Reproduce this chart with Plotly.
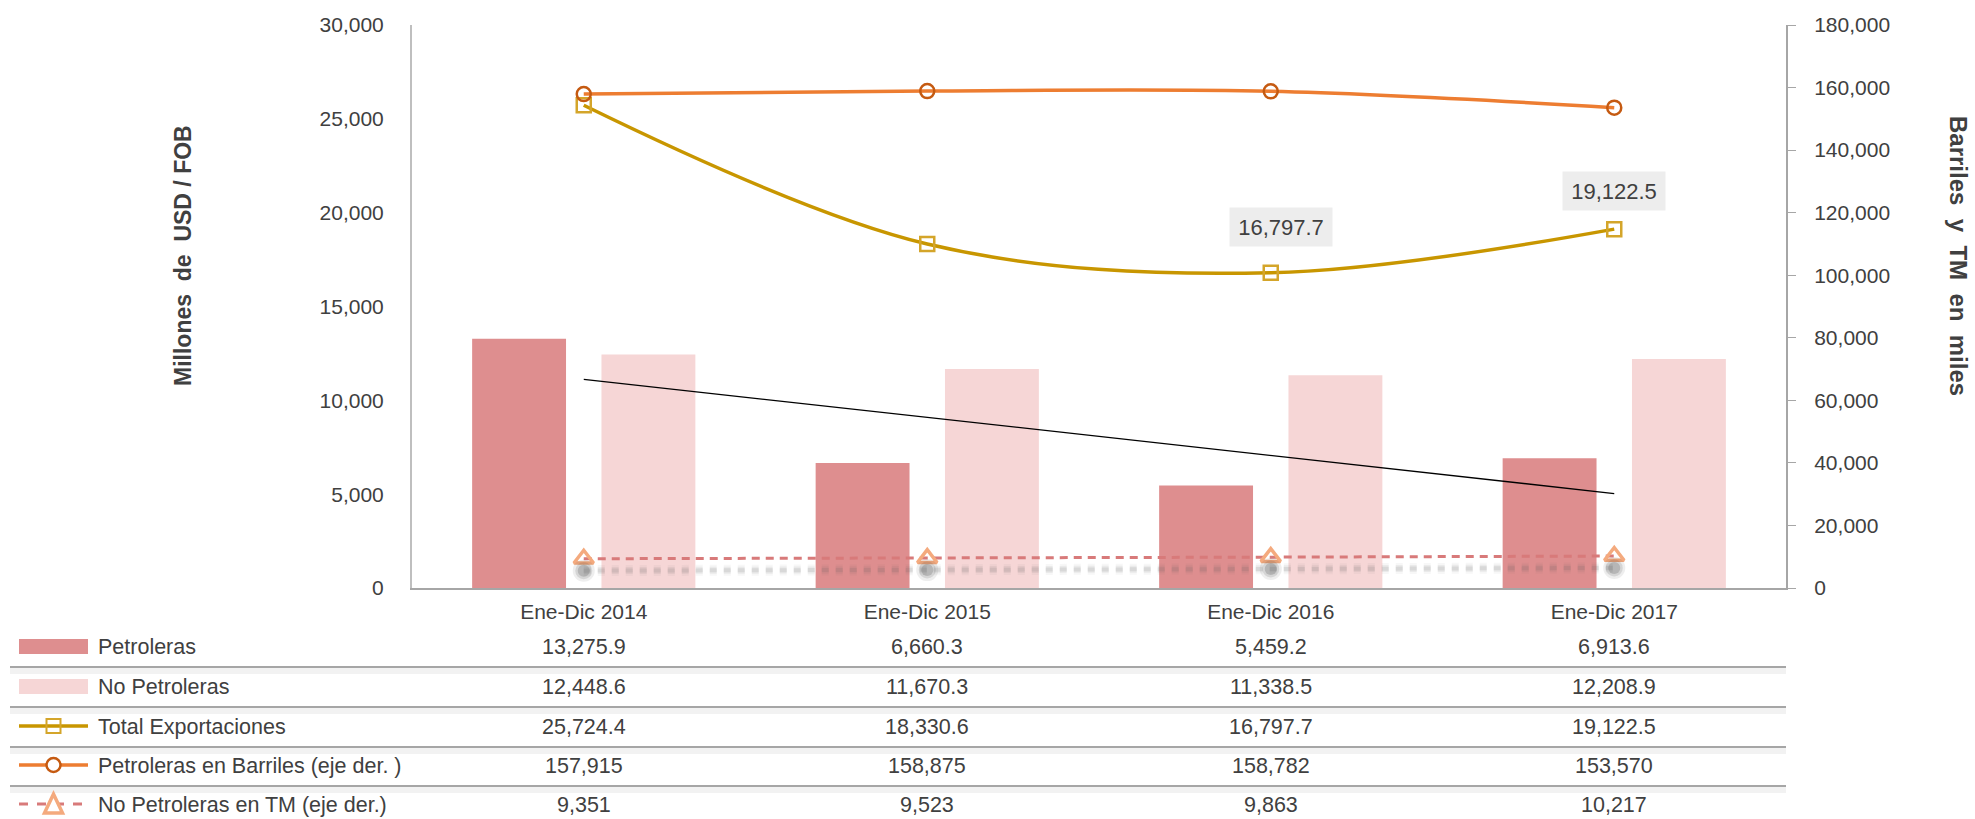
import numpy as np
import plotly.graph_objects as go

# ---- data ----
categories = ["Ene-Dic 2014", "Ene-Dic 2015", "Ene-Dic 2016", "Ene-Dic 2017"]
petroleras = [13275.9, 6660.3, 5459.2, 6913.6]
no_petroleras = [12448.6, 11670.3, 11338.5, 12208.9]
total_exportaciones = [25724.4, 18330.6, 16797.7, 19122.5]
petroleras_barriles = [157915, 158875, 158782, 153570]
no_petroleras_tm = [9351, 9523, 9863, 10217]
left_ticks = [0, 5000, 10000, 15000, 20000, 25000, 30000]
right_ticks = [0, 20000, 40000, 60000, 80000, 100000, 120000, 140000, 160000, 180000]

# ---- canvas / plot-area geometry (pixels) ----
W, H = 1975, 819
L, R, T, B = 412, 1786, 25, 588
PW, PH = R - L, B - T

FONT = "Liberation Sans, Arial, sans-serif"
FS = 21
TXT = "#404040"

C_PET = "#DE8E8F"
C_NOPET = "#F6D6D6"
C_TOTAL = "#C89600"
C_TOTAL_MK = "#D4A52A"
C_BARR = "#ED7D31"
C_BARR_MK = "#C55A11"
C_TM = "#D87A7A"
C_TM_MK = "#F4AA7E"


def px_x(x):
    return (x - L) / PW


def px_y(y):
    return (B - y) / PH


# linear trend of the oil exports
xi = np.arange(1, len(petroleras) + 1)
slope, intercept = np.polyfit(xi, petroleras, 1)
trend = slope * xi + intercept

fig = go.Figure()

fig.add_trace(go.Bar(x=categories, y=petroleras, name="Petroleras",
                     marker=dict(color=C_PET, line=dict(width=0)), yaxis="y"))
fig.add_trace(go.Bar(x=categories, y=no_petroleras, name="No Petroleras",
                     marker=dict(color=C_NOPET, line=dict(width=0)), yaxis="y"))

# soft shadow beneath the TM series (same values on a slightly shifted hidden axis)
for w, a, ms in [(11, 0.05, 22), (7, 0.08, 17), (4, 0.12, 12)]:
    fig.add_trace(go.Scatter(
        x=categories, y=no_petroleras_tm, mode="lines+markers", yaxis="y3",
        line=dict(color=f"rgba(90,90,90,{a})", width=w, dash="7px,7px"),
        marker=dict(symbol="circle", size=ms, color=f"rgba(70,70,70,{a*1.8})",
                    line=dict(width=0)),
        showlegend=False, hoverinfo="skip"))

fig.add_trace(go.Scatter(
    x=categories, y=no_petroleras_tm, name="No Petroleras en TM (eje der.)",
    mode="lines+markers", yaxis="y2",
    line=dict(color=C_TM, width=3, dash="8px,6px"),
    marker=dict(symbol="triangle-up-open", size=17,
                line=dict(color=C_TM_MK, width=3.5), color=C_TM_MK)))

fig.add_trace(go.Scatter(
    x=categories, y=trend, mode="lines", yaxis="y",
    line=dict(color="black", width=1.3), showlegend=False, hoverinfo="skip"))

fig.add_trace(go.Scatter(
    x=categories, y=petroleras_barriles, name="Petroleras en Barriles (eje der. )",
    mode="lines+markers", yaxis="y2",
    line=dict(color=C_BARR, width=3.5, shape="spline"),
    marker=dict(symbol="circle-open", size=14,
                line=dict(color=C_BARR_MK, width=2.5), color=C_BARR_MK)))

fig.add_trace(go.Scatter(
    x=categories, y=total_exportaciones, name="Total Exportaciones",
    mode="lines+markers", yaxis="y",
    line=dict(color=C_TOTAL, width=3.5, shape="spline"),
    marker=dict(symbol="square-open", size=14,
                line=dict(color=C_TOTAL_MK, width=2.5), color=C_TOTAL_MK)))

annotations = []
shapes = []

# value labels on the last two totals
for idx, (ax, ay) in [(2, (10, -46)), (3, (0, -38))]:
    annotations.append(dict(
        x=categories[idx], y=total_exportaciones[idx], xref="x", yref="y",
        text=f"{total_exportaciones[idx]:,.1f}", showarrow=True, arrowcolor="rgba(0,0,0,0)",
        ax=ax, ay=ay, font=dict(family=FONT, size=FS + 1, color=TXT),
        bgcolor="#EDEDED", borderpad=6, width=90, height=26))

# axis titles
annotations.append(dict(x=px_x(183), y=px_y(256), xref="paper", yref="paper",
                        xanchor="center", yanchor="middle",
                        text="<b>Millones  de  USD / FOB</b>", textangle=-90,
                        showarrow=False, font=dict(family=FONT, size=23, color=TXT)))
annotations.append(dict(x=px_x(1959), y=px_y(256), xref="paper", yref="paper",
                        xanchor="center", yanchor="middle",
                        text="<b>Barriles  y  TM  en  miles</b>", textangle=90,
                        showarrow=False, font=dict(family=FONT, size=24, color=TXT)))

# ---- data table below the chart ----
rows = [
    ("Petroleras", petroleras, "{:,.1f}"),
    ("No Petroleras", no_petroleras, "{:,.1f}"),
    ("Total Exportaciones", total_exportaciones, "{:,.1f}"),
    ("Petroleras en Barriles (eje der. )", petroleras_barriles, "{:,.0f}"),
    ("No Petroleras en TM (eje der.)", no_petroleras_tm, "{:,.0f}"),
]
row_y = [647, 687, 727, 766, 805]
sep_y = [667, 707, 747, 786]

for (label, vals, fmt), yy in zip(rows, row_y):
    annotations.append(dict(x=px_x(96), y=px_y(yy), xref="paper", yref="paper",
                            text=label, showarrow=False, xanchor="left", yanchor="middle",
                            font=dict(family=FONT, size=FS + 0.5, color=TXT)))
    for c, v in zip(categories, vals):
        annotations.append(dict(x=c, y=px_y(yy), xref="x", yref="paper",
                                text=fmt.format(v), showarrow=False,
                                xanchor="center", yanchor="middle",
                                font=dict(family=FONT, size=FS + 0.5, color=TXT)))

for yy in sep_y:
    shapes.append(dict(type="line", xref="paper", yref="paper",
                       x0=px_x(10), x1=px_x(1786), y0=px_y(yy + 4), y1=px_y(yy + 4),
                       line=dict(color="rgba(0,0,0,0.05)", width=6), layer="below"))
    shapes.append(dict(type="line", xref="paper", yref="paper",
                       x0=px_x(10), x1=px_x(1786), y0=px_y(yy), y1=px_y(yy),
                       line=dict(color="#A6A6A6", width=2)))

# legend keys
kx0, kx1, kxm = 19, 88, 53.5
shapes.append(dict(type="rect", xref="paper", yref="paper", x0=px_x(kx0), x1=px_x(kx1),
                   y0=px_y(654), y1=px_y(639), fillcolor=C_PET, line=dict(width=0)))
shapes.append(dict(type="rect", xref="paper", yref="paper", x0=px_x(kx0), x1=px_x(kx1),
                   y0=px_y(694), y1=px_y(679), fillcolor=C_NOPET, line=dict(width=0)))
shapes.append(dict(type="line", xref="paper", yref="paper", x0=px_x(kx0), x1=px_x(kx1),
                   y0=px_y(726), y1=px_y(726), line=dict(color=C_TOTAL, width=3.5)))
shapes.append(dict(type="rect", xref="paper", yref="paper", x0=px_x(kxm - 7), x1=px_x(kxm + 7),
                   y0=px_y(733), y1=px_y(719), fillcolor="rgba(0,0,0,0)",
                   line=dict(color=C_TOTAL_MK, width=2)))
shapes.append(dict(type="line", xref="paper", yref="paper", x0=px_x(kx0), x1=px_x(kx1),
                   y0=px_y(765), y1=px_y(765), line=dict(color=C_BARR, width=3.5)))
shapes.append(dict(type="circle", xref="paper", yref="paper", x0=px_x(kxm - 7), x1=px_x(kxm + 7),
                   y0=px_y(772), y1=px_y(758), fillcolor="white",
                   line=dict(color=C_BARR_MK, width=2.5)))
shapes.append(dict(type="line", xref="paper", yref="paper", x0=px_x(kx0), x1=px_x(kx1),
                   y0=px_y(804), y1=px_y(804), line=dict(color=C_TM, width=3, dash="dash")))
tri = "M {} {} L {} {} L {} {} Z".format(
    px_x(kxm), px_y(794), px_x(kxm - 9), px_y(813), px_x(kxm + 9), px_y(813))
shapes.append(dict(type="path", xref="paper", yref="paper", path=tri, fillcolor="white",
                   line=dict(color=C_TM_MK, width=3.5)))

fig.update_layout(
    width=W, height=H,
    margin=dict(l=L, r=W - R, t=T, b=H - B, pad=0),
    paper_bgcolor="white", plot_bgcolor="white",
    barmode="group", bargap=0.247, bargroupgap=0.274,
    showlegend=False,
    font=dict(family=FONT, size=FS, color=TXT),
    xaxis=dict(type="category", showgrid=False, showline=True, linecolor="#A6A6A6",
               linewidth=2, ticks="", tickfont=dict(family=FONT, size=FS, color=TXT),
               ticklabelstandoff=4, zeroline=False),
    yaxis=dict(range=[0, 30000], tickvals=left_ticks, tickformat=",", showgrid=False,
               showline=True, linecolor="#BFBFBF", linewidth=2, ticks="",
               ticklabelstandoff=22, zeroline=False,
               tickfont=dict(family=FONT, size=FS, color=TXT)),
    yaxis2=dict(range=[0, 180000], tickvals=right_ticks, tickformat=",", overlaying="y",
                side="right", showgrid=False, showline=True, linecolor="#A6A6A6",
                linewidth=2, ticks="outside", ticklen=8, tickcolor="#A6A6A6",
                ticklabelstandoff=14, zeroline=False,
                tickfont=dict(family=FONT, size=FS, color=TXT)),
    yaxis3=dict(range=[3800, 183800], overlaying="y", visible=False, showgrid=False,
                zeroline=False),
    annotations=annotations,
    shapes=shapes,
)

fig.write_html("out.html")
